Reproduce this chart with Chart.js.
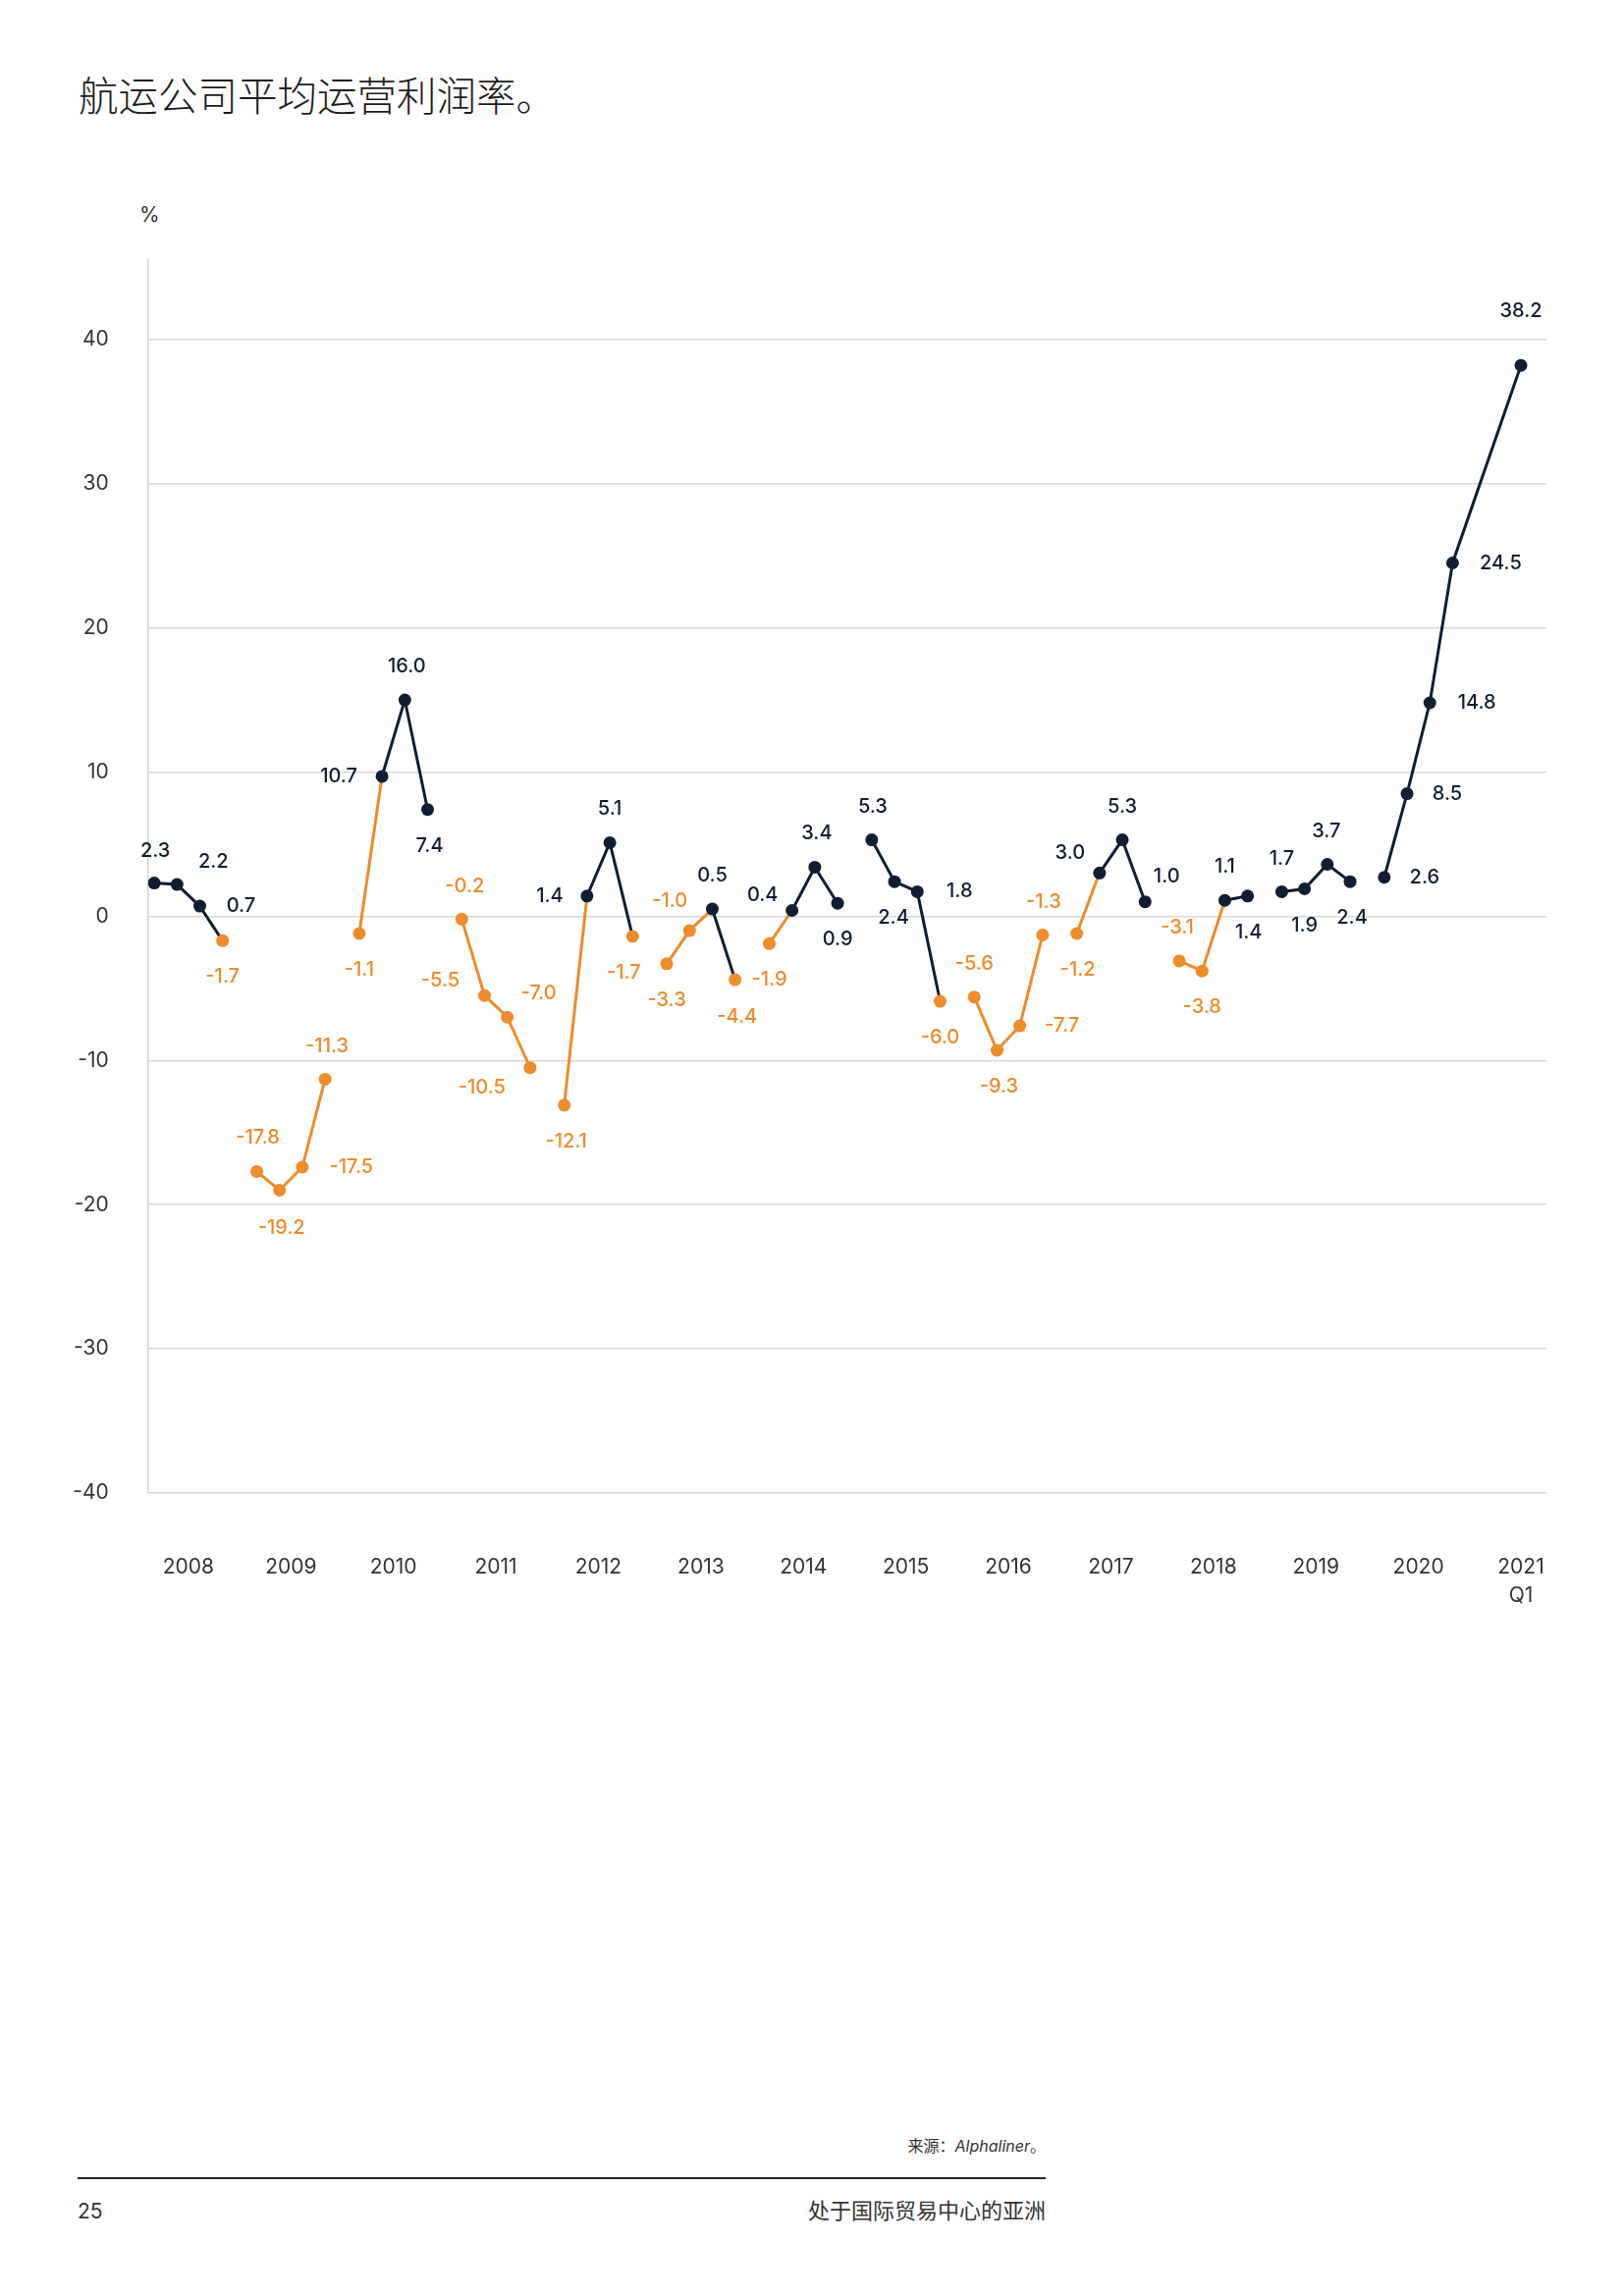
<!DOCTYPE html>
<html>
<head>
<meta charset="utf-8">
<script src="https://cdn.jsdelivr.net/npm/chart.js@4.4.1/dist/chart.umd.min.js"></script>
<style>
  html, body { margin: 0; padding: 0; background: #ffffff; }
  body { width: 1654px; height: 2339px; position: relative; overflow: hidden; }
  #wrap { position: absolute; left: 0; top: 0; width: 1654px; height: 1700px; }
  .t { position: absolute; white-space: nowrap; color: #2a2a2a; }
  #title { left: 80px; top: 74px; font: 300 40.5px/44px "Noto Sans CJK SC", sans-serif; color: #1c1c1c; }
  #unit { left: 142px; top: 205px; font: 400 21px/28px Inter, sans-serif; color: #333; }
  #src { right: 589px; top: 2174px; font: 400 16px/22px "Noto Sans CJK SC", sans-serif; color: #333; }
  #src i { font-family: Inter, sans-serif; font-style: italic; }
  #rule { position: absolute; left: 79px; top: 2218px; width: 986px; height: 2px; background: #1d2430; }
  #page { left: 79px; top: 2238px; font: 400 21px/30px Inter, sans-serif; color: #333; }
  #doc { right: 589px; top: 2235px; font: 400 22px/30px "Noto Sans CJK SC", sans-serif; color: #333; }
</style>
</head>
<body>
<div id="title" class="t">航运公司平均运营利润率。</div>
<div id="unit" class="t">%</div>
<div id="wrap"><canvas id="c"></canvas></div>
<div id="src" class="t">来源：<i>Alphaliner</i>。</div>
<div id="rule"></div>
<div id="page" class="t">25</div>
<div id="doc" class="t">处于国际贸易中心的亚洲</div>
<script>
// ---- data ----
const yearLabels = ['2008','2009','2010','2011','2012','2013','2014','2015','2016','2017','2018','2019','2020',['2021','Q1']];
const quartersPerYear = [4,4,4,4,4,4,4,4,4,4,4,4,4,1];
// which connected line run each year belongs to (2020 and 2021 Q1 are joined)
const lineRun = [0,1,2,3,4,5,6,7,8,9,10,11,12,12];
// plotted values
const values = [
  2.3, 2.2, 0.7, -1.7,
  -17.7, -19.0, -17.4, -11.3,
  -1.2, 9.7, 15.0, 7.4,
  -0.2, -5.5, -7.0, -10.5,
  -13.1, 1.4, 5.1, -1.4,
  -3.3, -1.0, 0.5, -4.4,
  -1.9, 0.4, 3.4, 0.9,
  5.3, 2.4, 1.7, -5.9,
  -5.6, -9.3, -7.6, -1.3,
  -1.2, 3.0, 5.3, 1.0,
  -3.1, -3.8, 1.1, 1.4,
  1.7, 1.9, 3.6, 2.4,
  2.7, 8.5, 14.8, 24.5,
  38.2
];
// printed value labels
const valueLabels = [
  '2.3','2.2','0.7','-1.7',
  '-17.8','-19.2','-17.5','-11.3',
  '-1.1','10.7','16.0','7.4',
  '-0.2','-5.5','-7.0','-10.5',
  '-12.1','1.4','5.1','-1.7',
  '-3.3','-1.0','0.5','-4.4',
  '-1.9','0.4','3.4','0.9',
  '5.3','2.4','1.8','-6.0',
  '-5.6','-9.3','-7.7','-1.3',
  '-1.2','3.0','5.3','1.0',
  '-3.1','-3.8','1.1','1.4',
  '1.7','1.9','3.7','2.4',
  '2.6','8.5','14.8','24.5',
  '38.2'
];
const yTickValues = [-40,-30,-20,-10,0,10,20,30,40];

// ---- label placement (offsets from each point, px) ----
const labelOffsets = [
  [1,-33],[37,-23],[42,0],[0,37],
  [1,-34],[2,38],[50,0],[2,-33],
  [0,37],[-44,0],[2,-34],[2,37],
  [3,-33],[-45,-15],[32,-24],[-49,20],
  [2,37],[-38,0],[0,-34],[-9,37],
  [0,37],[-20,-30],[0,-34],[2,38],
  [0,37],[-30,-16],[2,-34],[0,37],
  [1,-34],[-1,37],[43,0],[0,37],
  [0,-34],[2,37],[43,0],[1,-34],
  [1,37],[-30,-20],[0,-34],[22,-26],
  [-2,-34],[0,37],[0,-34],[1,37],
  [0,-33],[0,37],[-1,-34],[2,37],
  [41,0],[41,0],[48,0],[49,0],
  [0,-55]
];

const NAVY = '#111d31';
const ORANGE = '#ee8b2b';
const SLOT = 4.5; // x-units per year (3 quarter steps + gap)

// derive x positions and run index for each value
const points = [];
const runIdx = [];
let k = 0;
quartersPerYear.forEach((n, yi) => {
  for (let q = 0; q < n; q++) {
    const x = yi * SLOT + (n === 1 ? 1.5 : q);
    points.push({ x: x, y: values[k] });
    runIdx.push(lineRun[yi]);
    k++;
  }
});
const xTickValues = yearLabels.map((_, yi) => yi * SLOT + 1.5);
const isNeg = i => valueLabels[i].charAt(0) === '-';

const labelPlugin = {
  id: 'valueLabels',
  afterDatasetsDraw(chart) {
    const meta = chart.getDatasetMeta(0);
    const ctx = chart.ctx;
    ctx.save();
    ctx.font = '500 20px Inter, sans-serif';
    ctx.textAlign = 'center';
    ctx.textBaseline = 'middle';
    meta.data.forEach((el, i) => {
      const off = labelOffsets[i] || [0, -34];
      ctx.fillStyle = isNeg(i) ? ORANGE : NAVY;
      ctx.fillText(valueLabels[i], el.x + off[0], el.y + off[1]);
    });
    ctx.restore();
  }
};

new Chart(document.getElementById('c'), {
  type: 'line',
  data: {
    datasets: [{
      data: points,
      borderWidth: 3,
      borderColor: NAVY,
      pointRadius: 6.5,
      pointHoverRadius: 6.5,
      pointBorderWidth: 0,
      pointBackgroundColor: values.map((v, i) => isNeg(i) ? ORANGE : NAVY),
      tension: 0,
      segment: {
        borderColor: c => {
          if (runIdx[c.p0DataIndex] !== runIdx[c.p1DataIndex]) return 'rgba(0,0,0,0)';
          return isNeg(c.p0DataIndex) ? ORANGE : NAVY;
        }
      }
    }]
  },
  options: {
    responsive: true,
    maintainAspectRatio: false,
    animation: false,
    events: [],
    layout: { padding: { top: 265, right: 79, left: 0, bottom: 0 } },
    plugins: { legend: { display: false }, tooltip: { enabled: false } },
    scales: {
      x: {
        type: 'linear',
        min: -0.276,
        max: 61.12,
        afterFit: s => { s.height = 179; },
        afterBuildTicks: s => { s.ticks = xTickValues.map(v => ({ value: v })); },
        grid: { display: false, drawTicks: false },
        border: { display: false },
        ticks: {
          autoSkip: false,
          maxRotation: 0,
          padding: 61,
          color: '#333',
          font: { family: 'Inter', size: 21, lineHeight: 1.4 },
          callback: (v, i) => yearLabels[i]
        }
      },
      y: {
        min: -40,
        max: 45.5,
        afterFit: s => { s.width = 150.7; },
        afterBuildTicks: s => { s.ticks = yTickValues.map(v => ({ value: v })); },
        grid: { color: '#d9d9d9', lineWidth: 1.5, drawTicks: false },
        border: { display: true, color: '#d2d2d2', width: 1.5 },
        ticks: {
          padding: 40,
          color: '#333',
          font: { family: 'Inter', size: 21 },
          callback: v => String(v)
        }
      }
    }
  },
  plugins: [labelPlugin]
});
</script>
</body>
</html>
